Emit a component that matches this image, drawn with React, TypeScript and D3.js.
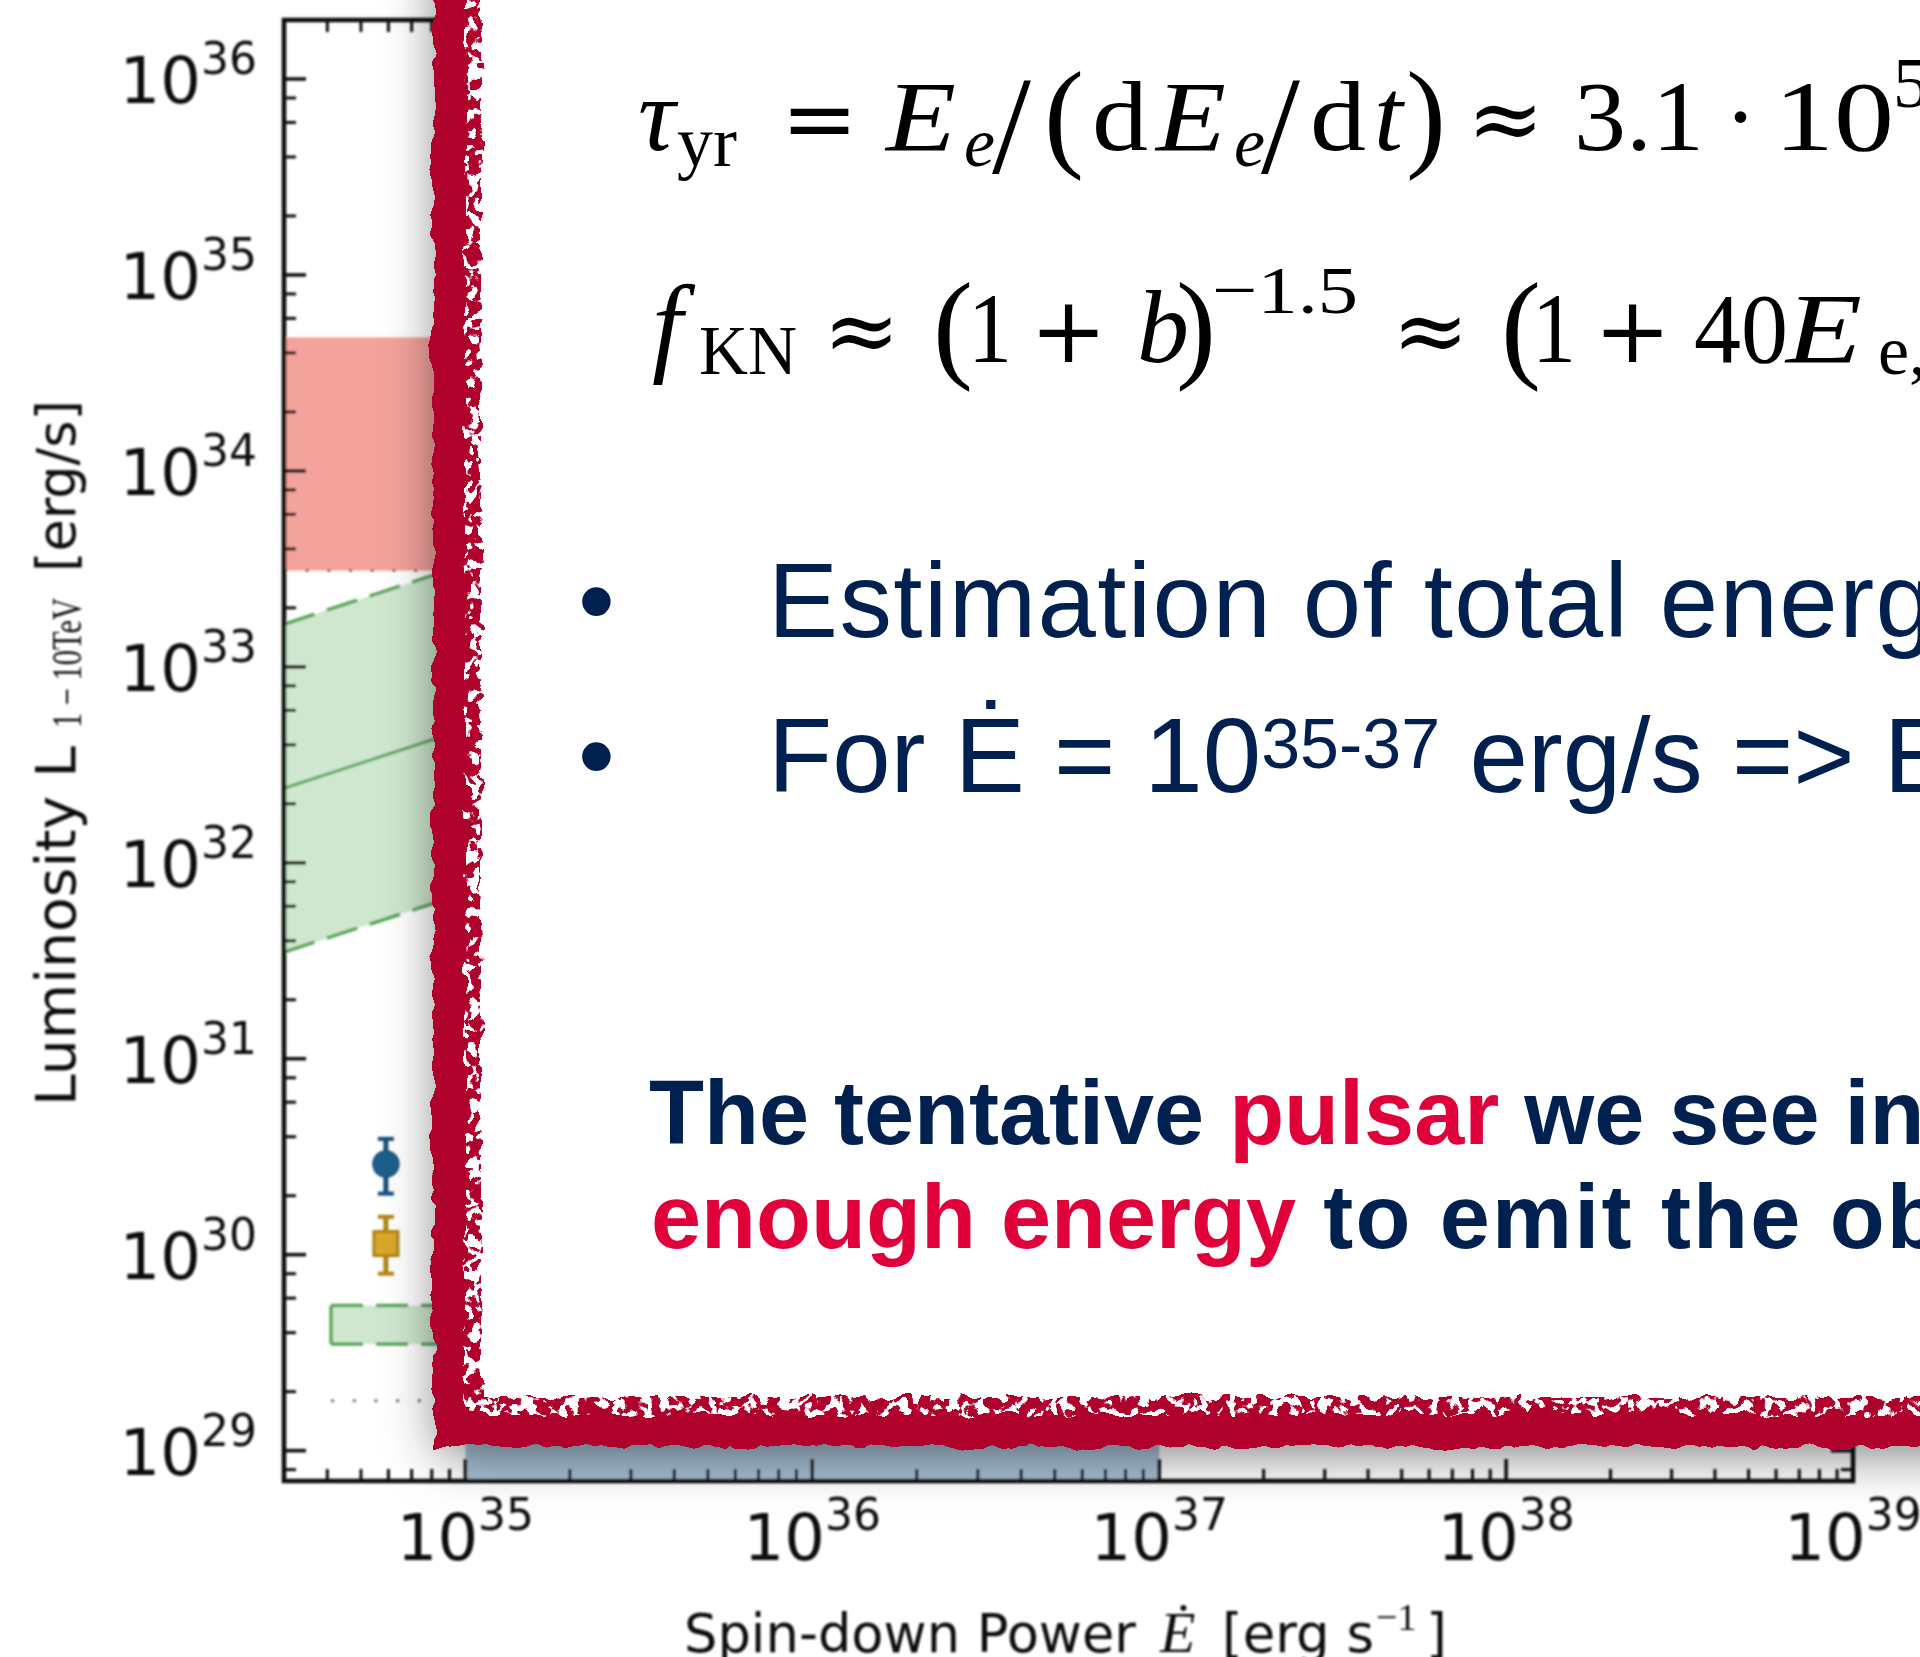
import React from "react";
import * as d3 from "d3";

// Axis extents
const edotDomain = [3e34, 1e39]; // spin-down power, erg/s
const lumDomain = [7e28, 2e36]; // luminosity 1-10 TeV, erg/s

// Tick values and their printed exponents
const edotMajorTicks = [1e35, 1e36, 1e37, 1e38, 1e39];
const edotTickExponents = ["35", "36", "37", "38", "39"];
const lumMajorTicks = [1e29, 1e30, 1e31, 1e32, 1e33, 1e34, 1e35, 1e36];
const lumTickExponents = ["29", "30", "31", "32", "33", "34", "35", "36"];
const edotMinorSubs = [2, 3, 4, 5, 6, 7, 8, 9];
const lumMinorSubs = [2, 4, 6, 8];

// Luminosity range of the halo
const haloBand = [3.1e33, 4.8e34];
// Spin-down power range considered for the pulsar
const spinDownRange = [1e35, 1e37];
// Expected luminosity as a function of Ė: central value and spread
const scalingEdot = [3e34, 1e39];
const scalingMid = [2.4e32, 1.0e35];
const scalingHigh = [1.65e33, 7.0e35];
const scalingLow = [3.5e31, 1.45e34];
// Upper-limit box
const limitEdot = [4.1e34, 2.5e35];
const limitLum = [3.5e29, 5.5e29];
// Sensitivity level
const sensitivityEdot = [4.1e34, 1e39];
const sensitivityLum = [1.8e29, 1.8e29];
// Measured sources with their uncertainties
const sourceEdot = [5.9e34, 5.9e34];
const sourceLum = [2.9e30, 1.14e30];
const sourceLumLow = [2.05e30, 8.0e29];
const sourceLumHigh = [3.9e30, 1.56e30];

const NAVY = "#002050";
const RED_TEXT = "#e0003a";
const BORDER_RED = "#b0002c";

function minorTicks(domain: number[], subs: number[]) {
  const out: number[] = [];
  const lo = Math.floor(Math.log10(domain[0]));
  const hi = Math.ceil(Math.log10(domain[1]));
  for (let e = lo; e < hi; e++) {
    for (const s of subs) {
      const v = s * Math.pow(10, e);
      if (v >= domain[0] * 0.999 && v <= domain[1] * 1.001) out.push(v);
    }
  }
  return out;
}

function Chart() {
  const x = d3.scaleLog().domain(edotDomain).range([284, 1853]);
  const y = d3.scaleLog().domain(lumDomain).range([1481, 20]);
  const [X0, X1] = x.range();
  const [YB, YT] = y.range();

  const line = d3
    .line<number[]>()
    .x((d) => x(d[0]))
    .y((d) => y(d[1]));
  const pairs = (vals: number[]) => scalingEdot.map((e, i) => [e, vals[i]]);
  const band = d3
    .area<number>()
    .x((e) => x(e))
    .y0((_, i) => y(scalingLow[i]))
    .y1((_, i) => y(scalingHigh[i]));

  const xMinor = minorTicks(edotDomain, edotMinorSubs);
  const yMinor = minorTicks(lumDomain, lumMinorSubs);
  const MAJ = 22;
  const MIN = 12;
  const ink = "#111";

  const sourceColors = ["#1f5f8c", "#d9a82a"];
  const sourceEdges = ["#1a5079", "#b08414"];

  return (
    <g filter="url(#soft)">
      <g clipPath="url(#plotClip)">
        {/* Ė range shading */}
        <rect
          x={x(spinDownRange[0])}
          y={YT}
          width={x(spinDownRange[1]) - x(spinDownRange[0])}
          height={YB - YT}
          fill="#a9c2d6"
        />
        {/* halo luminosity band */}
        <rect
          x={X0}
          y={y(haloBand[1])}
          width={X1 - X0}
          height={y(haloBand[0]) - y(haloBand[1])}
          fill="#f3a39b"
        />
        <line
          x1={X0}
          x2={X1}
          y1={y(haloBand[0])}
          y2={y(haloBand[0])}
          stroke="#777"
          strokeWidth={3}
          strokeDasharray="3 18.7"
        />
        {/* expected luminosity band */}
        <path d={band(scalingEdot) || ""} fill="#cfe7cf" />
        <path d={line(pairs(scalingHigh)) || ""} fill="none" stroke="#5aa65a" strokeWidth={3.5} strokeDasharray="32 13" />
        <path d={line(pairs(scalingLow)) || ""} fill="none" stroke="#5aa65a" strokeWidth={3.5} strokeDasharray="32 13" />
        <path d={line(pairs(scalingMid)) || ""} fill="none" stroke="#5aa65a" strokeWidth={3} />
        {/* upper-limit box */}
        <rect
          x={x(limitEdot[0])}
          y={y(limitLum[1])}
          width={x(limitEdot[1]) - x(limitEdot[0])}
          height={y(limitLum[0]) - y(limitLum[1])}
          fill="#cfe7cf"
        />
        {[limitLum[0], limitLum[1]].map((l, i) => (
          <line
            key={i}
            x1={x(limitEdot[0])}
            x2={x(limitEdot[1])}
            y1={y(l)}
            y2={y(l)}
            stroke="#5aa65a"
            strokeWidth={3.5}
            strokeDasharray="32 13"
          />
        ))}
        <line
          x1={x(limitEdot[0])}
          x2={x(limitEdot[0])}
          y1={y(limitLum[0])}
          y2={y(limitLum[1])}
          stroke="#5aa65a"
          strokeWidth={3.5}
        />
        {/* sensitivity level */}
        <line
          x1={x(sensitivityEdot[0])}
          x2={x(sensitivityEdot[1])}
          y1={y(sensitivityLum[0])}
          y2={y(sensitivityLum[1])}
          stroke="#777"
          strokeWidth={3}
          strokeDasharray="3 18.7"
        />
        {/* measured sources */}
        {sourceEdot.map((e, i) => {
          const cx = x(e);
          const cy = y(sourceLum[i]);
          const yHi = y(sourceLumHigh[i]);
          const yLo = y(sourceLumLow[i]);
          const c = sourceColors[i];
          return (
            <g key={i}>
              <line x1={cx} x2={cx} y1={yHi} y2={yLo} stroke={sourceEdges[i]} strokeWidth={5} />
              <line x1={cx - 8} x2={cx + 8} y1={yHi} y2={yHi} stroke={sourceEdges[i]} strokeWidth={4} />
              <line x1={cx - 8} x2={cx + 8} y1={yLo} y2={yLo} stroke={sourceEdges[i]} strokeWidth={4} />
              {i === 0 ? (
                <circle cx={cx} cy={cy} r={13} fill={c} stroke={sourceEdges[i]} strokeWidth={1.5} />
              ) : (
                <rect x={cx - 12} y={cy - 12} width={24} height={24} fill={c} stroke={sourceEdges[i]} strokeWidth={3} />
              )}
            </g>
          );
        })}
      </g>

      {/* frame */}
      <rect x={X0} y={YT} width={X1 - X0} height={YB - YT} fill="none" stroke={ink} strokeWidth={4.5} />

      {/* x ticks, bottom and top, pointing inward */}
      {edotMajorTicks.map((t) => (
        <g key={"xm" + t} stroke={ink} strokeWidth={3.5}>
          <line x1={x(t)} x2={x(t)} y1={YB} y2={YB - MAJ} />
          <line x1={x(t)} x2={x(t)} y1={YT} y2={YT + MAJ} />
        </g>
      ))}
      {xMinor.map((t) => (
        <g key={"xn" + t} stroke={ink} strokeWidth={3}>
          <line x1={x(t)} x2={x(t)} y1={YB} y2={YB - MIN} />
          <line x1={x(t)} x2={x(t)} y1={YT} y2={YT + MIN} />
        </g>
      ))}
      {/* y ticks, left and right */}
      {lumMajorTicks.map((t) => (
        <g key={"ym" + t} stroke={ink} strokeWidth={3.5}>
          <line x1={X0} x2={X0 + MAJ} y1={y(t)} y2={y(t)} />
          <line x1={X1} x2={X1 - MAJ} y1={y(t)} y2={y(t)} />
        </g>
      ))}
      {yMinor.map((t) => (
        <g key={"yn" + t} stroke={ink} strokeWidth={3}>
          <line x1={X0} x2={X0 + MIN} y1={y(t)} y2={y(t)} />
          <line x1={X1} x2={X1 - MIN} y1={y(t)} y2={y(t)} />
        </g>
      ))}

      {/* tick labels */}
      {edotMajorTicks.map((t, i) => (
        <text key={"xl" + t} x={x(t)} y={1560} textAnchor="middle" fontFamily="DejaVu Sans" fontSize={64} fill={ink}>
          10
          <tspan fontSize={44} dy={-30}>
            {edotTickExponents[i]}
          </tspan>
        </text>
      ))}
      {lumMajorTicks.map((t, i) => (
        <text key={"yl" + t} x={257} y={y(t) + 24} textAnchor="end" fontFamily="DejaVu Sans" fontSize={64} fill={ink}>
          10
          <tspan fontSize={44} dy={-29}>
            {lumTickExponents[i]}
          </tspan>
        </text>
      ))}

      {/* axis titles */}
      <g fill={ink}>
        <text x={684} y={1652} fontFamily="DejaVu Sans" fontSize={54} textLength={452} lengthAdjust="spacingAndGlyphs">
          Spin-down Power
        </text>
        <text x={1160} y={1652} fontFamily="Liberation Serif" fontStyle="italic" fontSize={58}>
          Ė
        </text>
        <text x={1222} y={1652} fontFamily="DejaVu Sans" fontSize={54} textLength={152} lengthAdjust="spacingAndGlyphs">
          [erg s
        </text>
        <text x={1376} y={1630} fontFamily="Liberation Serif" fontSize={38}>
          −1
        </text>
        <text x={1426} y={1652} fontFamily="DejaVu Sans" fontSize={54}>
          ]
        </text>
      </g>
      <g transform="translate(75 0) rotate(-90)" fill={ink}>
        <text x={-1106} y={0} fontFamily="DejaVu Sans" fontSize={55} textLength={360} lengthAdjust="spacingAndGlyphs">
          Luminosity L
        </text>
        <text x={-728} y={6} fontFamily="Liberation Serif" fontSize={42} textLength={130} lengthAdjust="spacingAndGlyphs">
          1 − 10TeV
        </text>
        <text x={-572} y={0} fontFamily="DejaVu Sans" fontSize={53} textLength={172} lengthAdjust="spacingAndGlyphs">
          [erg/s]
        </text>
      </g>
    </g>
  );
}

type TokProps = {
  x: number;
  y: number;
  size?: number;
  w?: number;
  italic?: boolean;
  family?: string;
  children: React.ReactNode;
};

// One glyph group of a typeset formula
function Tok({ x, y, size = 99, w, italic, family = "Liberation Serif", children }: TokProps) {
  return (
    <text
      x={x}
      y={y}
      fontSize={size}
      fontFamily={family}
      fontStyle={italic ? "italic" : "normal"}
      textLength={w}
      lengthAdjust={w ? "spacingAndGlyphs" : undefined}
    >
      {children}
    </text>
  );
}

function Callout() {
  const op = "DejaVu Serif";
  const sans = "Liberation Sans";
  return (
    <g>
      {/* box with its shadow */}
      <rect x={442} y={-400} width={1700} height={1840} fill="#fff" filter="url(#boxShadow)" />
      {/* rough painted border */}
      <path d="M449,-80 L449,1431 L2050,1431" fill="none" stroke={BORDER_RED} strokeWidth={32} filter="url(#roughEdge)" />
      <path d="M470,-80 L470,1408 L2050,1408" fill="none" stroke={BORDER_RED} strokeWidth={22} filter="url(#speckledEdge)" />

      {/* formulas */}
      <g fill="#000">
        <Tok x={638} y={150} size={104} italic>τ</Tok>
        <Tok x={677} y={166} size={72}>yr</Tok>
        <Tok x={781} y={150} size={92} family={op}>=</Tok>
        <Tok x={886} y={150} w={70} italic>E</Tok>
        <Tok x={964} y={166} size={70} italic>e</Tok>
        <Tok x={992} y={173} size={140}>/</Tok>
        <Tok x={1044} y={155} size={120}>(</Tok>
        <Tok x={1092} y={150} w={56}>d</Tok>
        <Tok x={1156} y={150} w={70} italic>E</Tok>
        <Tok x={1234} y={166} size={70} italic>e</Tok>
        <Tok x={1261} y={173} size={140}>/</Tok>
        <Tok x={1310} y={150} w={56}>d</Tok>
        <Tok x={1374} y={150} size={104} italic>t</Tok>
        <Tok x={1406} y={155} size={120}>)</Tok>
        <Tok x={1467} y={150} size={92} family={op}>≈</Tok>
        <Tok x={1574} y={150} w={130}>3.1</Tok>
        <Tok x={1724} y={150}>·</Tok>
        <Tok x={1774} y={150} w={120}>10</Tok>
        <Tok x={1893} y={107} size={72}>5</Tok>

        <Tok x={652} y={362} size={110} italic>f</Tok>
        <Tok x={699} y={374} size={70} w={98}>KN</Tok>
        <Tok x={823} y={362} size={92} family={op}>≈</Tok>
        <Tok x={933} y={366} size={120}>(</Tok>
        <Tok x={968} y={362} w={44}>1</Tok>
        <Tok x={1030} y={362} size={92} family={op}>+</Tok>
        <Tok x={1137} y={362} size={104} italic>b</Tok>
        <Tok x={1176} y={366} size={120}>)</Tok>
        <Tok x={1212} y={313} size={68} w={146}>−1.5</Tok>
        <Tok x={1392} y={362} size={92} family={op}>≈</Tok>
        <Tok x={1501} y={366} size={120}>(</Tok>
        <Tok x={1532} y={362} w={44}>1</Tok>
        <Tok x={1594} y={362} size={92} family={op}>+</Tok>
        <Tok x={1694} y={362} w={94}>40</Tok>
        <Tok x={1786} y={362} w={76} italic>E</Tok>
        <Tok x={1878} y={374} size={70}>e,γ</Tok>
      </g>

      {/* bullet points */}
      <g fontFamily={sans} fontSize={105} fill={NAVY}>
        <text x={578} y={637}>•</text>
        <text x={768} y={637} letterSpacing={1.4}>
          Estimation of total energy
        </text>
        <text x={578} y={792}>•</text>
        <text x={768} y={792}>
          {"For Ė = 10"}
          <tspan fontSize={70} dy={-24}>35-37</tspan>
          <tspan dy={24}>{" erg/s => E"}</tspan>
        </text>
      </g>

      {/* conclusion */}
      <g fontFamily={sans} fontSize={90} fontWeight="bold" fill={NAVY}>
        <text x={649} y={1144}>
          {"The tentative "}
          <tspan fill={RED_TEXT}>pulsar</tspan>
          {" we see in"}
        </text>
        <text x={651} y={1248}>
          <tspan fill={RED_TEXT}>enough energy</tspan>
          <tspan letterSpacing={2.2}>{" to emit the observed"}</tspan>
        </text>
      </g>
    </g>
  );
}

export default function App() {
  return (
    <svg
      width={1920}
      height={1657}
      viewBox="0 0 1920 1657"
      style={{ position: "absolute", left: 0, top: 0, display: "block" }}
    >
      <defs>
        <clipPath id="plotClip">
          <rect x={284} y={20} width={1569} height={1461} />
        </clipPath>
        <filter id="soft" filterUnits="userSpaceOnUse" x="0" y="0" width="1920" height="1657">
          <feGaussianBlur stdDeviation="0.8" />
        </filter>
        <filter id="boxShadow" filterUnits="userSpaceOnUse" x="0" y="-500" width="2400" height="2300">
          <feDropShadow dx="-4" dy="14" stdDeviation="26" floodColor="#000" floodOpacity="0.5" />
        </filter>
        <filter
          id="roughEdge"
          filterUnits="userSpaceOnUse"
          x="380"
          y="-200"
          width="1750"
          height="1720"
          colorInterpolationFilters="sRGB"
        >
          <feTurbulence type="fractalNoise" baseFrequency="0.05" numOctaves="2" seed="4" result="warp" />
          <feDisplacementMap in="SourceGraphic" in2="warp" scale="14" xChannelSelector="R" yChannelSelector="G" />
        </filter>
        <filter
          id="speckledEdge"
          filterUnits="userSpaceOnUse"
          x="380"
          y="-200"
          width="1750"
          height="1720"
          colorInterpolationFilters="sRGB"
        >
          <feTurbulence type="fractalNoise" baseFrequency="0.1" numOctaves="2" seed="9" result="grain" />
          <feColorMatrix
            in="grain"
            type="matrix"
            values="0 0 0 0 0  0 0 0 0 0  0 0 0 0 0  -22 0 0 0 12.3"
            result="grainMask"
          />
          <feComposite in="SourceGraphic" in2="grainMask" operator="in" result="holed" />
          <feTurbulence type="fractalNoise" baseFrequency="0.05" numOctaves="2" seed="4" result="warp" />
          <feDisplacementMap in="holed" in2="warp" scale="14" xChannelSelector="R" yChannelSelector="G" />
        </filter>
      </defs>
      <rect x={0} y={0} width={1920} height={1657} fill="#fff" />
      <Chart />
      <Callout />
    </svg>
  );
}
